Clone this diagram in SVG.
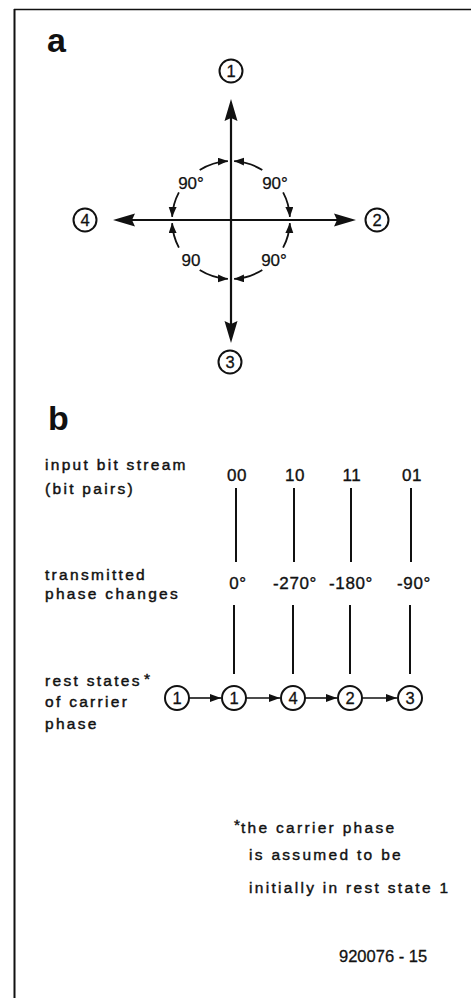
<svg xmlns="http://www.w3.org/2000/svg" width="471" height="998" viewBox="0 0 471 998">
  <style>
    .ink { stroke: #111; fill: none; }
    .axis { stroke: #111; stroke-width: 2.2; fill: none; }
    .arc { stroke: #111; stroke-width: 1.8; fill: none; }
    .head { fill: #111; stroke: none; }
    .ring { stroke: #111; stroke-width: 2; fill: #fff; }
    .num { font-family: "Liberation Sans", Arial, sans-serif; font-size: 16.5px; fill: #111; text-anchor: middle; stroke: #111; stroke-width: 0.3; }
    .deg { font-family: "Liberation Sans", Arial, sans-serif; font-size: 17px; fill: #111; text-anchor: middle; stroke: #111; stroke-width: 0.25; }
    .big { font-family: "Liberation Sans", Arial, sans-serif; font-size: 34px; font-weight: bold; fill: #111; }
    .lbl { font-family: "Liberation Sans", Arial, sans-serif; font-size: 15.5px; letter-spacing: 2.3px; fill: #111; stroke: #111; stroke-width: 0.45; }
    .val { font-family: "Liberation Sans", Arial, sans-serif; font-size: 17px; letter-spacing: 0.6px; fill: #111; text-anchor: middle; stroke: #111; stroke-width: 0.35; }
    .note { font-family: "Liberation Sans", Arial, sans-serif; font-size: 15.5px; letter-spacing: 2.3px; fill: #111; stroke: #111; stroke-width: 0.4; }
    .code { font-family: "Liberation Sans", Arial, sans-serif; font-size: 16.5px; fill: #111; stroke: #111; stroke-width: 0.3; }
  </style>
  <defs>
    <marker id="tip" markerUnits="userSpaceOnUse" markerWidth="12" markerHeight="9" refX="10" refY="4" orient="auto">
      <path d="M0,0 L10,4 L0,8 z" fill="#111"/>
    </marker>
    <marker id="tipChain" markerUnits="userSpaceOnUse" markerWidth="12" markerHeight="9" refX="11" refY="4" orient="auto">
      <path d="M0,0 L11,4 L0,8 z" fill="#111"/>
    </marker>
  </defs>

  <rect width="471" height="998" fill="#fff"/>

  <!-- frame -->
  <g id="frame">
    <line x1="14" y1="9.5" x2="471" y2="9.5" class="ink" stroke-width="1.6"/>
    <line x1="14.5" y1="9" x2="14.5" y2="998" class="ink" stroke-width="2"/>
  </g>

  <!-- part a: phase states -->
  <text class="big" x="47" y="52">a</text>

  <g id="connectors-a">
    <line class="axis" x1="231" y1="110" x2="231" y2="333"/>
    <line class="axis" x1="124" y1="220" x2="346" y2="220"/>
    <polygon class="head" points="231,99 237.5,121 231,118 224.5,121"/>
    <polygon class="head" points="231,343 237.5,321 231,324 224.5,321"/>
    <polygon class="head" points="113,220 135,213.5 132,220 135,226.5"/>
    <polygon class="head" points="356,220 334,213.5 337,220 334,226.5"/>

    <!-- 90 degree rotation arcs, each pointing at an axis -->
    <path class="arc" marker-end="url(#tip)" d="M199.7,170 A59,59 0 0 1 227.9,161.1"/>
    <path class="arc" marker-end="url(#tip)" d="M178.9,192.3 A59,59 0 0 0 172.1,216.9"/>
    <path class="arc" marker-end="url(#tip)" d="M262.3,170 A59,59 0 0 0 234.1,161.1"/>
    <path class="arc" marker-end="url(#tip)" d="M283.1,192.3 A59,59 0 0 1 289.9,216.9"/>
    <path class="arc" marker-end="url(#tip)" d="M178.9,247.7 A59,59 0 0 1 172.1,223.1"/>
    <path class="arc" marker-end="url(#tip)" d="M199.7,270 A59,59 0 0 0 227.9,278.9"/>
    <path class="arc" marker-end="url(#tip)" d="M262.3,270 A59,59 0 0 1 234.1,278.9"/>
    <path class="arc" marker-end="url(#tip)" d="M283.1,247.7 A59,59 0 0 0 289.9,223.1"/>
  </g>

  <g id="angle-labels">
    <text class="deg" x="191" y="189">90°</text>
    <text class="deg" x="275" y="189">90°</text>
    <text class="deg" x="191" y="266">90</text>
    <text class="deg" x="274" y="266">90°</text>
  </g>

  <g id="state-a1"><circle class="ring" cx="231" cy="71" r="11.5"/><text class="num" x="231" y="77">1</text></g>
  <g id="state-a2"><circle class="ring" cx="377" cy="220" r="11.5"/><text class="num" x="377" y="226">2</text></g>
  <g id="state-a3"><circle class="ring" cx="230" cy="362" r="11.5"/><text class="num" x="230" y="368">3</text></g>
  <g id="state-a4"><circle class="ring" cx="85" cy="220" r="11.5"/><text class="num" x="85" y="226">4</text></g>

  <!-- part b: example sequence -->
  <text class="big" x="48" y="430">b</text>

  <g id="row-labels">
    <text class="lbl" x="45" y="470">input bit stream</text>
    <text class="lbl" x="45" y="494">(bit pairs)</text>
    <text class="lbl" x="45" y="580">transmitted</text>
    <text class="lbl" x="45" y="599">phase changes</text>
    <text class="lbl" x="45" y="686">rest states</text>
    <text class="lbl" x="144" y="684" font-size="18" letter-spacing="0">*</text>
    <text class="lbl" x="45" y="707">of carrier</text>
    <text class="lbl" x="45" y="729">phase</text>
  </g>

  <g id="bit-pairs">
    <text class="val" x="237" y="481">00</text>
    <text class="val" x="295" y="481">10</text>
    <text class="val" x="352" y="481">11</text>
    <text class="val" x="412" y="481">01</text>
  </g>

  <g id="phase-changes">
    <text class="val" x="238" y="589">0°</text>
    <text class="val" x="295" y="589">-270°</text>
    <text class="val" x="351" y="589">-180°</text>
    <text class="val" x="414" y="589">-90°</text>
  </g>

  <g id="connectors-b">
    <line class="ink" stroke-width="2" x1="236" y1="488" x2="236" y2="562"/>
    <line class="ink" stroke-width="2" x1="294" y1="488" x2="294" y2="562"/>
    <line class="ink" stroke-width="2" x1="351" y1="488" x2="351" y2="562"/>
    <line class="ink" stroke-width="2" x1="411" y1="488" x2="411" y2="562"/>

    <line class="ink" stroke-width="2" x1="234" y1="605" x2="234" y2="674"/>
    <line class="ink" stroke-width="2" x1="293" y1="605" x2="293" y2="674"/>
    <line class="ink" stroke-width="2" x1="350" y1="605" x2="350" y2="674"/>
    <line class="ink" stroke-width="2" x1="410" y1="605" x2="410" y2="674"/>

    <line class="ink" stroke-width="1.6" marker-end="url(#tipChain)" x1="189" y1="698" x2="221" y2="698"/>
    <line class="ink" stroke-width="1.6" marker-end="url(#tipChain)" x1="246" y1="698" x2="280" y2="698"/>
    <line class="ink" stroke-width="1.6" marker-end="url(#tipChain)" x1="305" y1="698" x2="337" y2="698"/>
    <line class="ink" stroke-width="1.6" marker-end="url(#tipChain)" x1="362" y1="698" x2="397" y2="698"/>
  </g>

  <g id="state-b0"><circle class="ring" cx="177" cy="698" r="12"/><text class="num" x="177" y="704">1</text></g>
  <g id="state-b1"><circle class="ring" cx="234" cy="698" r="12"/><text class="num" x="234" y="704">1</text></g>
  <g id="state-b2"><circle class="ring" cx="293" cy="698" r="12"/><text class="num" x="293" y="704">4</text></g>
  <g id="state-b3"><circle class="ring" cx="350" cy="698" r="12"/><text class="num" x="350" y="704">2</text></g>
  <g id="state-b4"><circle class="ring" cx="410" cy="698" r="12"/><text class="num" x="410" y="704">3</text></g>

  <g id="footnote">
    <text class="note" x="234" y="830" font-size="13" stroke-width="0.2">*</text>
    <text class="note" x="241" y="833">the carrier phase</text>
    <text class="note" x="249" y="860">is assumed to be</text>
    <text class="note" x="249" y="893">initially in rest state 1</text>
  </g>

  <text class="code" x="339" y="962">920076 - 15</text>
</svg>
